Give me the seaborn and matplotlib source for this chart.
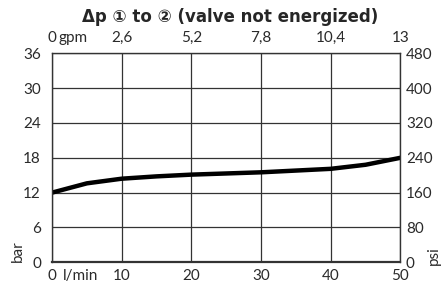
import numpy as np
import pandas as pd
import matplotlib
matplotlib.use("Agg")
import matplotlib.pyplot as plt
import seaborn as sns

# flow (l/min) vs pressure drop (bar)
flow_lpm = [0, 5, 10, 15, 20, 25, 30, 35, 40, 45, 50]
dp_bar = [12, 13.6, 14.4, 14.8, 15.1, 15.3, 15.5, 15.8, 16.1, 16.8, 18]

bar_ticks = [0, 6, 12, 18, 24, 30, 36]
psi_ticks = [0, 80, 160, 240, 320, 400, 480]
lpm_ticks = [0, 10, 20, 30, 40, 50]
gpm_ticks = [0, 2.6, 5.2, 7.8, 10.4, 13]
gpm_labels = ["0", "2,6", "5,2", "7,8", "10,4", "13"]

title = "\u0394p \u2460 to \u2461 (valve not energized)"

sns.set_style("white")
plt.rcParams['font.family'] = ['Lato', 'DejaVu Sans']
txtc = '#2a2a2a'

df = pd.DataFrame({'flow': flow_lpm, 'dp': dp_bar})

fig = plt.figure(figsize=(4.41, 2.84), dpi=100)
ax = fig.add_axes([0.118, 0.0764, 0.790, 0.736])

sns.lineplot(data=df, x='flow', y='dp', ax=ax, color='black', linewidth=3.2,
             solid_capstyle='butt')

ax.set_xlim(0, 50)
ax.set_ylim(0, 36)
ax.set_xticks(lpm_ticks)
ax.set_yticks(bar_ticks)
ax.set_xlabel('')
ax.set_ylabel('')
ax.grid(True, color='#333333', linewidth=0.9)
ax.tick_params(length=0, labelsize=11, colors=txtc)
ax.tick_params(axis='y', pad=8)
ax.tick_params(axis='x', pad=4.5)
for s in ax.spines.values():
    s.set_color('#333333')
    s.set_linewidth(1.0)
ax.spines['bottom'].set_linewidth(1.6)

# psi on the right
axr = ax.twinx()
axr.set_ylim(0, 480)
axr.set_yticks(psi_ticks)
axr.tick_params(length=0, labelsize=11, colors=txtc, pad=4)

# gpm on top
axt = ax.twiny()
axt.set_xlim(0, 13)
axt.set_xticks(gpm_ticks)
axt.set_xticklabels(gpm_labels)
axt.tick_params(length=0, labelsize=11, colors=txtc, pad=6)
for a in (axr, axt):
    for s in a.spines.values():
        s.set_visible(False)
    a.grid(False)

fig.text(0.143, 0.014, 'l/min', fontsize=11, color=txtc, ha='left', va='baseline')
fig.text(0.132, 0.852, 'gpm', fontsize=11, color=txtc, ha='left', va='baseline')
fig.text(0.041, 0.0775, 'bar', fontsize=11, color=txtc, rotation=90, ha='center', va='bottom')
fig.text(0.983, 0.067, 'psi', fontsize=11, color=txtc, rotation=90, ha='center', va='bottom')

fig.text(0.5215, 0.94, title, fontsize=12, fontweight='bold', ha='center', va='center',
         family=['DejaVu Sans'])

fig.savefig('out.png', dpi=100)
